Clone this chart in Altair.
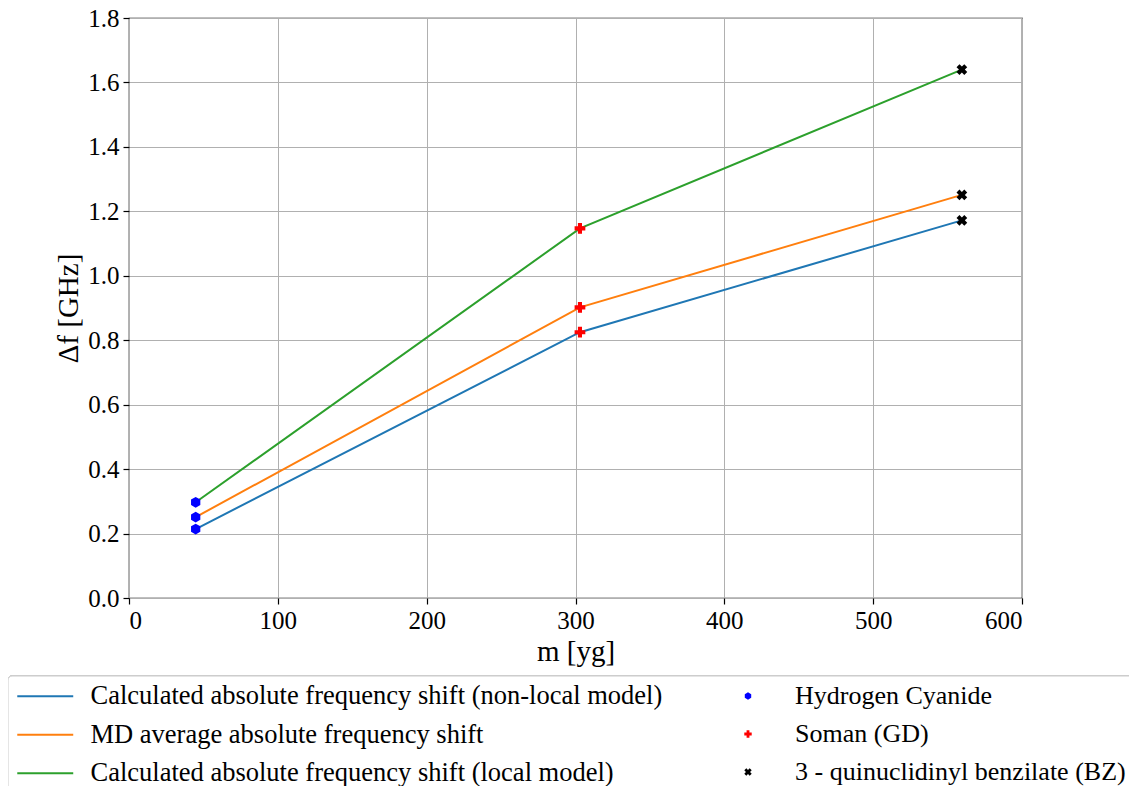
import math
import altair as alt
import pandas as pd

# ---- data ----
compounds = ["Hydrogen Cyanide", "Soman (GD)", "3 - quinuclidinyl benzilate (BZ)"]
mass_yg = [44.8, 303.0, 559.6]
series_names = [
    "Calculated absolute frequency shift (non-local model)",
    "MD average absolute frequency shift",
    "Calculated absolute frequency shift (local model)",
]
nonlocal_shift = [0.214, 0.825, 1.172]
md_shift = [0.251, 0.902, 1.251]
local_shift = [0.297, 1.147, 1.640]

series_values = [nonlocal_shift, md_shift, local_shift]
line_colors = ["#1f77b4", "#ff7f0e", "#2ca02c"]
marker_colors = ["#0000ff", "#ff0000", "#000000"]

rows = []
for s, vals in zip(series_names, series_values):
    for c, m, v in zip(compounds, mass_yg, vals):
        rows.append({"series": s, "compound": c, "m": m, "df": v})
df = pd.DataFrame(rows)

# ---- marker shapes ----
hexagon = "M0,-1L0.866,-0.5L0.866,0.5L0,1L-0.866,0.5L-0.866,-0.5Z"
t = 0.38
plus_pts = [(-t, -1), (t, -1), (t, -t), (1, -t), (1, t), (t, t), (t, 1), (-t, 1),
            (-t, t), (-1, t), (-1, -t), (-t, -t)]
def to_path(pts):
    return "M" + "L".join(f"{x:.3f},{y:.3f}" for x, y in pts) + "Z"
plus_path = to_path(plus_pts)
c45 = math.cos(math.pi / 4)
xs = [((x - y) * c45, (x + y) * c45) for x, y in plus_pts]
mx = max(max(abs(a), abs(b)) for a, b in xs)
x_path = to_path([(a / mx, b / mx) for a, b in xs])
marker_shapes = [hexagon, plus_path, x_path]
long_stroke = "M-3,0H3"

FONT = "Liberation Serif"
W, H = 893, 580

x_enc = alt.X("m:Q", scale=alt.Scale(domain=[0, 600], nice=False),
              axis=alt.Axis(values=[0, 100, 200, 300, 400, 500, 600], title="m [yg]"))
y_enc = alt.Y("df:Q", scale=alt.Scale(domain=[0, 1.8], nice=False),
              axis=alt.Axis(values=[0, 0.2, 0.4, 0.6, 0.8, 1.0, 1.2, 1.4, 1.6, 1.8],
                            format=".1f", title="Δf [GHz]"))

lines = alt.Chart(df).mark_line(strokeWidth=2).encode(
    x=x_enc, y=y_enc,
    color=alt.Color("series:N", sort=series_names,
                    scale=alt.Scale(domain=series_names, range=line_colors),
                    legend=alt.Legend(title=None, orient="none", legendX=-97, legendY=665,
                                      symbolType=long_stroke, symbolSize=348,
                                      symbolStrokeWidth=2, labelFont=FONT, labelFontSize=26.5,
                                      labelColor="black", rowPadding=11.5, labelOffset=32,
                                      padding=0, labelLimit=800)),
    detail="series:N",
)

points = alt.Chart(df).mark_point(filled=True, size=115, opacity=1).encode(
    x=x_enc, y=y_enc,
    fill=alt.Fill("compound:N", sort=compounds,
                  scale=alt.Scale(domain=compounds, range=marker_colors),
                  legend=alt.Legend(title=None, orient="none", legendX=606, legendY=665,
                                    symbolSize=55, labelFont=FONT, labelFontSize=26,
                                    labelColor="black", rowPadding=12, labelOffset=34,
                                    padding=0, labelLimit=800, symbolStrokeWidth=0)),
    shape=alt.Shape("compound:N", sort=compounds,
                    scale=alt.Scale(domain=compounds, range=marker_shapes)),
)

frame = alt.Chart(df).mark_rect(fill="white", stroke="#cccccc", strokeWidth=1,
                                cornerRadius=4).encode(
    x=alt.value(-121), x2=alt.value(1020), y=alt.value(658), y2=alt.value(790)
)

chart = alt.layer(frame, lines, points).properties(
    width=W, height=H,
    autosize=alt.AutoSizeParams(type="none"),
    padding={"left": 121, "top": 10, "right": 107, "bottom": 188},
).configure_view(stroke="black", strokeWidth=1.2).configure_axis(
    grid=True, gridColor="#b0b0b0", gridWidth=1,
    domain=False, tickColor="black", tickSize=6, tickWidth=1.2,
    labelFont=FONT, labelFontSize=25, labelColor="black",
    titleFont=FONT, titleFontSize=29, titleFontWeight="normal", titleColor="black",
    labelPadding=4,
).configure_axisX(titlePadding=4).configure_axisY(titlePadding=4)

chart.save("out.html", embed_options={"renderer": "svg", "actions": False})
